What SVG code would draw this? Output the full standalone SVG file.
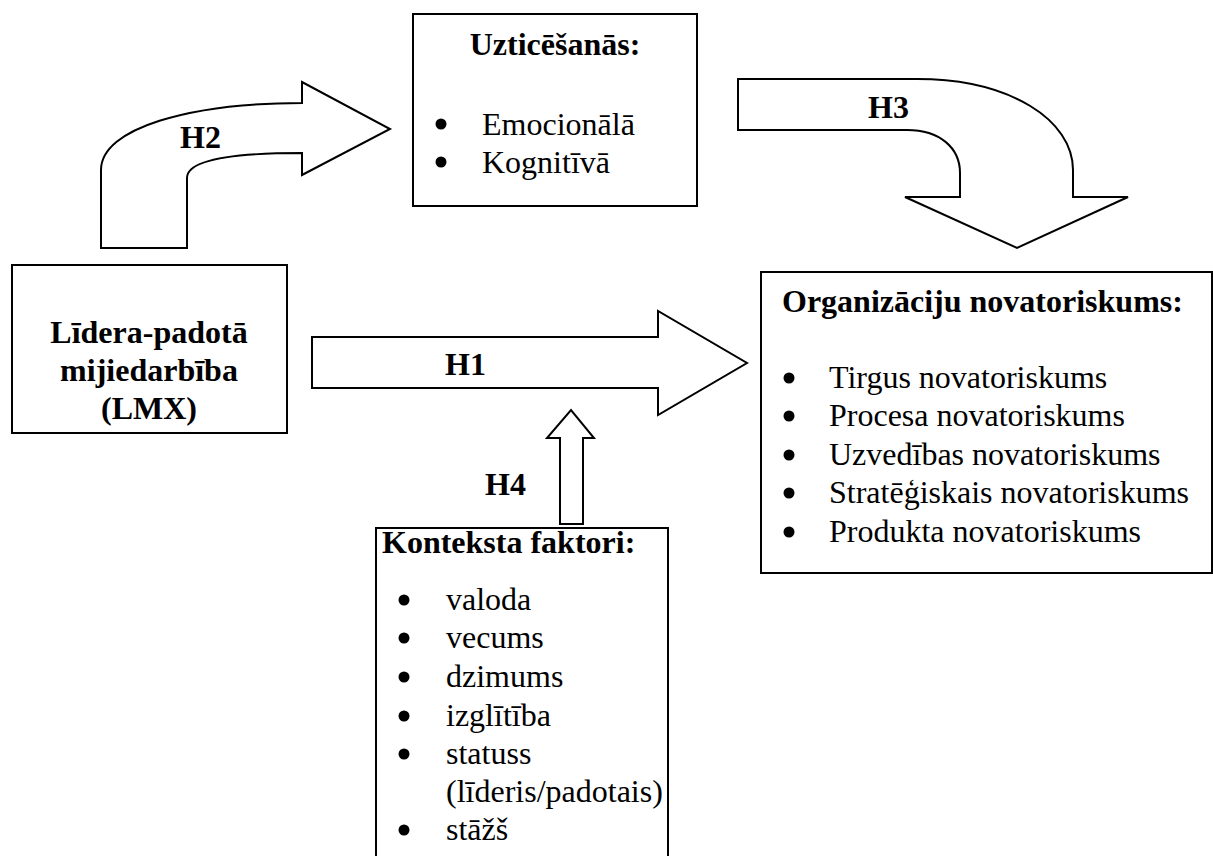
<svg xmlns="http://www.w3.org/2000/svg" width="1213" height="856" viewBox="0 0 1213 856">
<style>
.box{fill:#fff;stroke:#000;stroke-width:2}
.arr{fill:#fff;stroke:#000;stroke-width:2;stroke-linejoin:miter}
.dot{fill:#000}
text{font-family:"Liberation Serif","Times New Roman",serif;font-size:32px;fill:#000}
.b{font-weight:bold}
.m{text-anchor:middle}
</style>
<rect width="1213" height="856" fill="#fff"/>
<g id="connectors">
<g id="h2">
<path class="arr" d="M101,248 L101,170 C101,128 190,103 302,103 L302,82 L390,129 L302,175 L302,153 C232,153 187,160 187,178 L187,248 Z"/>
<text class="b" x="180" y="148">H2</text>
</g>
<g id="h3">
<path class="arr" d="M738,79 L917,79 C1010,79 1073,120 1073,170 L1073,197 L1128,197 L1017,248 L905,197 L960,197 L960,173 C960,148 940,130 907,130 L738,130 Z"/>
<text class="b" x="868" y="118">H3</text>
</g>
<g id="h1">
<path class="arr" d="M312,337 L658,337 L658,311 L747,363 L658,415 L658,388 L312,388 Z"/>
<text class="b" x="445" y="375">H1</text>
</g>
<g id="h4">
<path class="arr" d="M560,524 L560,438 L547,438 L571,410 L594,438 L583,438 L583,524 Z"/>
<text class="b" x="485" y="495">H4</text>
</g>
</g>
<g id="trust">
<rect class="box" x="413" y="14" width="284" height="192"/>
<text class="b m" x="555" y="55">Uzticēšanās:</text>
<circle class="dot" cx="441" cy="124" r="5.5"/>
<text x="482" y="135">Emocionālā</text>
<circle class="dot" cx="441" cy="162" r="5.5"/>
<text x="482" y="173">Kognitīvā</text>
</g>
<g id="lmx">
<rect class="box" x="12" y="265" width="275" height="168"/>
<text class="b m" x="149" y="343">Līdera-padotā</text>
<text class="b m" x="149" y="381">mijiedarbība</text>
<text class="b m" x="149" y="419">(LMX)</text>
</g>
<g id="innovation">
<rect class="box" x="761" y="272" width="451" height="301"/>
<text class="b" x="782" y="312">Organizāciju novatoriskums:</text>
<circle class="dot" cx="789" cy="378" r="5.5"/>
<text x="829" y="388">Tirgus novatoriskums</text>
<circle class="dot" cx="789" cy="416" r="5.5"/>
<text x="829" y="426">Procesa novatoriskums</text>
<circle class="dot" cx="789" cy="455" r="5.5"/>
<text x="829" y="465">Uzvedības novatoriskums</text>
<circle class="dot" cx="789" cy="493" r="5.5"/>
<text x="829" y="503">Stratēģiskais novatoriskums</text>
<circle class="dot" cx="789" cy="532" r="5.5"/>
<text x="829" y="542">Produkta novatoriskums</text>
</g>
<g id="context">
<rect class="box" x="376" y="528" width="292" height="340"/>
<text class="b" x="382" y="553">Konteksta faktori:</text>
<circle class="dot" cx="404" cy="600" r="5.5"/>
<text x="446" y="610">valoda</text>
<circle class="dot" cx="404" cy="638" r="5.5"/>
<text x="446" y="648">vecums</text>
<circle class="dot" cx="404" cy="677" r="5.5"/>
<text x="446" y="687">dzimums</text>
<circle class="dot" cx="404" cy="716" r="5.5"/>
<text x="446" y="726">izglītība</text>
<circle class="dot" cx="404" cy="754" r="5.5"/>
<text x="446" y="764">statuss</text>
<text x="446" y="802">(līderis/padotais)</text>
<circle class="dot" cx="404" cy="830" r="5.5"/>
<text x="446" y="840">stāžš</text>
</g>
</svg>
